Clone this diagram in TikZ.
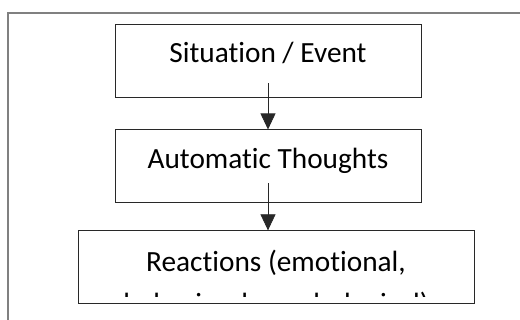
\documentclass[tikz,border=0pt]{standalone}
\usepackage{fontspec}
\setmainfont{Carlito}[Ligatures=NoCommon]
\usepackage{tikz}
\usetikzlibrary{arrows.meta, positioning}
\definecolor{framegray}{RGB}{128,128,128}
\definecolor{boxline}{RGB}{40,40,40}
\tikzset{
  bigtext/.style={font=\fontsize{29.3pt}{39pt}\selectfont},
  box/.style={rectangle, draw=boxline, line width=0.9pt, minimum width=306pt,
    inner xsep=0pt, inner ysep=0pt, text height=39pt, text depth=34pt, bigtext},
  arrow/.style={-{Triangle[length=16pt, width=15pt]}, line width=0.7pt, color=boxline}
}

\begin{document}
\begin{tikzpicture}[x=1pt, y=-1pt]
  \useasboundingbox (0,0) rectangle (520,320);

  % Frame (only its top and left sides are in view)
  \draw[framegray, line width=2pt] (8,320) -- (8,13) -- (520,13);

  % Nodes
  \node[box] (sit) at (268,60.5) {Situation / Event};
  \node[box, below=32pt of sit] (auto) {Automatic Thoughts};
  \node[box, minimum width=396pt, below=27pt of auto, xshift=8pt] (react) {};

  % Text cut off at the bottom of the last box
  \begin{scope}
    \clip ([yshift=8pt]react.south west) rectangle (react.north east);
    \node[bigtext, anchor=base, align=center, inner sep=0pt] (reacttext)
      at ([yshift=-83.4pt]react.north) {Reactions (emotional,\\[3pt]behavioral, psychological)};
  \end{scope}

  % Arrows
  \draw[arrow] ([yshift=14pt]sit.south) -- (auto.north);
  \draw[arrow] ([yshift=20pt]auto.south) -- (auto.south |- react.north);

\end{tikzpicture}
\end{document}
